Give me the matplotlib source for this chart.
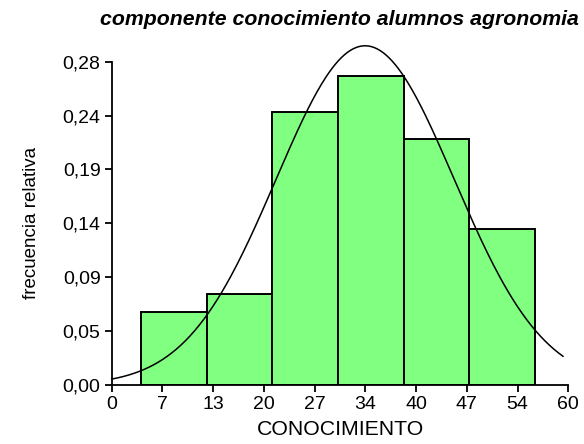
import numpy as np
import matplotlib
matplotlib.use('Agg')
import matplotlib.pyplot as plt

plt.rcParams['font.family'] = ['Liberation Sans', 'DejaVu Sans']

# histogram of relative frequencies
bin_edges = [3.9, 12.5, 21.1, 29.7, 38.4, 47.0, 55.6]
rel_freq = [0.0635, 0.0788, 0.2362, 0.2676, 0.2128, 0.1348]

# fitted normal curve parameters
mean_val = 33.3
sd_val = 11.7
curve_from, curve_to = 0.0, 59.3

x_labels = ['0', '7', '13', '20', '27', '34', '40', '47', '54', '60']
y_labels = ['0,00', '0,05', '0,09', '0,14', '0,19', '0,24', '0,28']

fig = plt.figure(figsize=(5.84, 4.44), dpi=100)
ax = fig.add_axes([0.1913, 0.1329, 0.9731 - 0.1913, 0.861 - 0.1329])

widths = np.diff(bin_edges)
ax.bar(bin_edges[:-1], rel_freq, width=widths, align='edge',
       color='#80ff80', edgecolor='black', linewidth=1.4, zorder=2)

# normal curve scaled to the bin width
bw = widths.mean()
xs = np.linspace(curve_from, curve_to, 300)
ys = bw / (sd_val * np.sqrt(2 * np.pi)) * np.exp(-0.5 * ((xs - mean_val) / sd_val) ** 2)
ax.plot(xs, ys, color='black', linewidth=1.1, clip_on=False, zorder=3)

ax.set_xlim(0, 60)
ax.set_ylim(0, 0.28)
ax.set_xticks(np.linspace(0, 60, len(x_labels)))
ax.set_xticklabels(x_labels)
ax.set_yticks(np.linspace(0, 0.28, len(y_labels)))
ax.set_yticklabels(y_labels)

for s in ['top', 'right']:
    ax.spines[s].set_visible(False)
for s in ['left', 'bottom']:
    ax.spines[s].set_linewidth(1.3)
ax.tick_params(direction='out', length=5, width=1.3, labelsize=14, pad=3)

ax.set_xlabel('CONOCIMIENTO', fontsize=15.3, labelpad=5)
ax.set_ylabel('frecuencia relativa', fontsize=13.5, labelpad=16)
fig.text(0.5805, 0.955, 'componente conocimiento alumnos agronomia',
         ha='center', va='center', fontsize=15.3, fontweight='bold', style='italic')

fig.savefig('out.png', dpi=100)
